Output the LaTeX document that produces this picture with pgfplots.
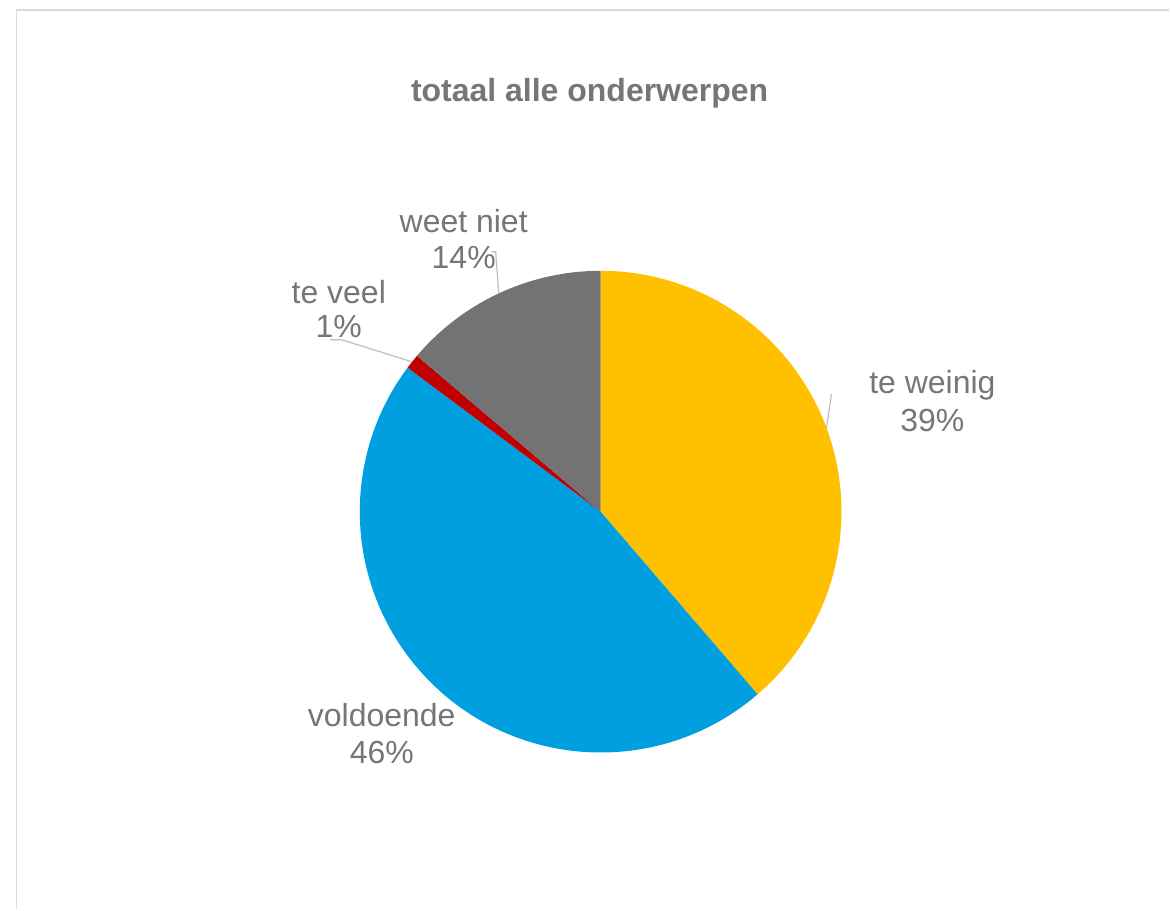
\documentclass[border=0pt]{standalone}
\usepackage{pgfplots}
\pgfplotsset{compat=1.18}
\usepackage{pgfplotstable}
\usepackage{fontspec}
\setmainfont{Liberation Sans}
\definecolor{cweinig}{HTML}{FFC000}
\definecolor{cvoldoende}{HTML}{009FDF}
\definecolor{cveel}{HTML}{C00000}
\definecolor{cweet}{HTML}{737373}
\definecolor{txt}{HTML}{767676}
\definecolor{lead}{HTML}{BFBFBF}
\definecolor{frame}{HTML}{D9D9D9}
% share in percent, clockwise from 12 o'clock
\pgfplotstableread{
label value
{te weinig} 38.7
voldoende 46.5
{te veel} 1.0
{weet niet} 13.8
}\piedata
\newcommand\R{120.5pt}
% #1 start (cumulative %), #2 end (cumulative %), #3 colour
\newcommand\slice[3]{%
  \fill[#3] (axis cs:601,398) -- ++({90-3.6*(#1)}:\R)
    arc[start angle={90-3.6*(#1)}, end angle={90-3.6*(#2)}, radius=\R] -- cycle;}
\begin{document}
\begin{tikzpicture}
\begin{axis}[
  scale only axis, width=585pt, height=455pt,
  xmin=0, xmax=1170, ymin=0, ymax=910,
  hide axis, clip=false,
]
\path (axis cs:0,0) rectangle (axis cs:1170,910);
\draw[frame, line width=0.75pt] (axis cs:16.5,0) -- (axis cs:16.5,900) -- (axis cs:1170,900);
% slices: te weinig 38.7, voldoende 46.5, te veel 1.0, weet niet 13.8
\slice{0}{38.7}{cweinig}
\slice{38.7}{38.7+46.5}{cvoldoende}
\slice{85.2}{85.2+1.0}{cveel}
\slice{86.2}{86.2+13.8}{cweet}
% leader lines
\draw[lead, line width=0.6pt] (axis cs:492,658) -- (axis cs:496,658) -- (axis cs:499,617);
\draw[lead, line width=0.6pt] (axis cs:330,570) -- (axis cs:342,570) -- (axis cs:412,548);
\draw[lead, line width=0.6pt] (axis cs:832,516) -- (axis cs:827,482);
% title
\node[anchor=base, text=txt, font=\fontsize{16}{19}\selectfont\bfseries] at (axis cs:590,808) {totaal alle onderwerpen};
% labels
\tikzset{lbl/.style={anchor=base, text=txt, font=\fontsize{16}{19}\selectfont, inner sep=0pt}}
\node[lbl] at (axis cs:464,677) {weet niet};
\node[lbl] at (axis cs:464,641) {14\%};
\node[lbl] at (axis cs:339,606) {te veel};
\node[lbl] at (axis cs:339,572) {1\%};
\node[lbl] at (axis cs:933,516) {te weinig};
\node[lbl] at (axis cs:933,478) {39\%};
\node[lbl] at (axis cs:382,183) {voldoende};
\node[lbl] at (axis cs:382,146) {46\%};
\end{axis}
\end{tikzpicture}
\end{document}
